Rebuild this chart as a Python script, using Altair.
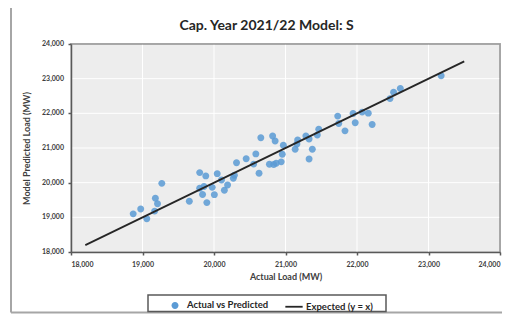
import altair as alt
import pandas as pd

actual = [18870, 18975, 19060, 19170, 19180, 19210, 19270, 19655, 19800, 19885,
          19800, 19860, 19840, 19900, 19975, 20005, 20045, 20105, 20145, 20190,
          20270, 20285, 20315, 20450, 20555, 20585, 20630, 20655, 20775, 20835,
          20870, 20820, 20855, 20940, 20955, 20970, 21135, 21160, 21170, 21285,
          21330, 21330, 21375, 21445, 21465, 21730, 21745, 21832, 21945, 21975,
          22072, 22158, 22212, 22462, 22512, 22606, 23177]
predicted = [19100, 19240, 18960, 19180, 19550, 19390, 19980, 19465, 20290, 20195,
             19840, 19890, 19660, 19425, 19865, 19655, 20260, 20075, 19780, 19935,
             20125, 20215, 20575, 20690, 20535, 20830, 20270, 21295, 20530, 20525,
             20560, 21345, 21200, 20600, 20820, 21080, 20965, 21115, 21230, 21345,
             21260, 20685, 20965, 21375, 21540, 21920, 21705, 21495, 21995, 21730,
             22035, 22005, 21680, 22425, 22610, 22715, 23086]
line_vals = [18200, 23500]
series_names = ["Actual vs Predicted", "Expected (y = x)"]
ticks = [18000, 19000, 20000, 21000, 22000, 23000, 24000]
tick_labels = ["18,000", "19,000", "20,000", "21,000", "22,000", "23,000", "24,000"]

pts = pd.DataFrame({"actual": actual, "predicted": predicted, "series": series_names[0]})
ln = pd.DataFrame({"actual": line_vals, "predicted": line_vals, "series": series_names[1]})
tk = pd.DataFrame({"tick": ticks, "label": tick_labels})
bg = pd.DataFrame({"lo": [ticks[0]], "hi": [ticks[-1]]})

FONT = "Lato"
BLUE = "#5B9BD5"
DARK = "#262626"
PLOT_BG = "#EDEDED"
W, H = 429, 208
SMALL_CIRCLE = "M -0.4,0 A 0.4,0.4 0 1,1 0.4,0 A 0.4,0.4 0 1,1 -0.4,0 Z"

xs = alt.Scale(domain=[18000, 24000], nice=False, zero=False)
ys = alt.Scale(domain=[18000, 24000], nice=False, zero=False)

axis_common = dict(
    values=ticks, format=",d", labelFont=FONT, labelFontSize=7, labelFontWeight="bold",
    labelColor="#404040", titleFont=FONT, titleFontSize=9, titleFontWeight="bold",
    titleColor="#404040", domainColor="#595959", domainWidth=1.5, tickColor="#595959",
    tickWidth=1.5, tickSize=3, grid=False, labelOverlap=False, zindex=1,
)

leg = alt.Legend(
    title=None, orient="none", legendX=92, legendY=249, direction="horizontal",
    labelFont=FONT, labelFontSize=9.5, labelFontWeight="bold", labelColor="#262626",
    padding=2, columnPadding=12,
    labelOffset=2, symbolStrokeWidth=1.8, symbolSize=300, symbolOpacity=1,
)

fill_enc = alt.Fill("series:N", scale=alt.Scale(domain=series_names, range=[BLUE, "transparent"]), legend=leg)
stroke_enc = alt.Stroke("series:N", scale=alt.Scale(domain=series_names, range=["transparent", DARK]), legend=leg)
shape_enc = alt.Shape("series:N", scale=alt.Scale(domain=series_names, range=[SMALL_CIRCLE, "stroke"]), legend=leg)

one = pd.DataFrame({"f": [0]})

# plot-area background spanning the axis domain
plot_bg = alt.Chart(bg).mark_rect(
    fill=PLOT_BG, stroke="#999999", strokeWidth=1.5, opacity=1
).encode(
    x=alt.X("lo:Q", scale=xs), x2="hi:Q",
    y=alt.Y("lo:Q", scale=ys), y2="hi:Q",
)

# plot-area border: top and right edges on the domain limits
border_top = alt.Chart(bg).mark_rule(color="#999999", strokeWidth=1.5).encode(
    y=alt.Y("hi:Q", scale=ys))
border_right = alt.Chart(bg).mark_rule(color="#999999", strokeWidth=1.5).encode(
    x=alt.X("hi:Q", scale=xs))

# outer chart frame edges (decoration)
frame_left = alt.Chart(one).mark_rule(color="#A6A6A6", strokeWidth=2).encode(
    x=alt.value(-60), y=alt.value(-39), y2=alt.value(268.5))
frame_top = alt.Chart(one).mark_rule(color="#A6A6A6", strokeWidth=2).encode(
    x=alt.value(-60), x2=alt.value(470), y=alt.value(-39))
frame_bottom = alt.Chart(one).mark_rule(color="#A6A6A6", strokeWidth=2).encode(
    x=alt.value(-60), x2=alt.value(470), y=alt.value(268.5))

# legend box
legend_box = alt.Chart(one).mark_rect(
    fill="#FFFFFF", stroke="#595959", strokeWidth=1.5
).encode(x=alt.value(77), x2=alt.value(315), y=alt.value(251), y2=alt.value(267.5))

grid_x = alt.Chart(tk).mark_rule(color="#FFFFFF", strokeWidth=1).encode(
    x=alt.X("tick:Q", scale=xs)
)
grid_y = alt.Chart(tk).mark_rule(color="#FFFFFF", strokeWidth=1).encode(
    y=alt.Y("tick:Q", scale=ys)
)

y_labels = alt.Chart(tk).mark_text(
    align="right", baseline="middle", font=FONT, fontSize=7, fontWeight="bold",
    color="#404040", dx=-7
).encode(
    x=alt.value(0), y=alt.Y("tick:Q", scale=ys), text="label:N"
)

points = alt.Chart(pts).mark_point(filled=True, opacity=0.85, strokeWidth=1.8, size=300).encode(
    x=alt.X("actual:Q", scale=xs, axis=alt.Axis(title="Actual Load (MW)", labelPadding=5, titlePadding=5, **axis_common)),
    y=alt.Y("predicted:Q", scale=ys, axis=alt.Axis(title="Model Predicted Load (MW)", labels=False, titlePadding=36, **axis_common)),
    fill=fill_enc,
    stroke=stroke_enc,
    shape=shape_enc,
)

line = alt.Chart(ln).mark_line(strokeWidth=1.8).encode(
    x=alt.X("actual:Q", scale=xs),
    y=alt.Y("predicted:Q", scale=ys),
    stroke=stroke_enc,
)

chart = alt.layer(
    plot_bg, grid_x, grid_y, border_top, border_right,
    frame_left, frame_top, frame_bottom,
    legend_box, y_labels, points, line
).properties(
    width=W, height=H,
    background="#FFFFFF",
    autosize=alt.AutoSizeParams(type="none"),
    padding={"left": 63, "top": 36, "right": 2, "bottom": 62},
    title=alt.TitleParams(
        "Cap. Year 2021/22 Model: S", font=FONT, fontSize=14, fontWeight="bold",
        color="#262626", anchor="middle", frame="group", dx=-19, offset=-43,
        baseline="bottom",
    ),
).configure_view(
    fill=PLOT_BG, stroke="#999999", strokeWidth=1.5
).configure_axis(
    labelOverlap=False
)

chart.save("out.html", embed_options={"renderer": "svg", "actions": False})
